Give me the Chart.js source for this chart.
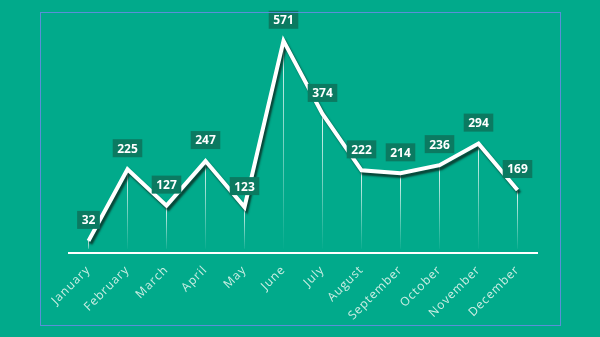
<!DOCTYPE html>
<html>
<head>
<meta charset="utf-8">
<script src="https://cdn.jsdelivr.net/npm/chart.js@4"></script>
<style>
    html, body { margin: 0; padding: 0; background: #01aa8b; }
    #wrap { position: relative; width: 600px; height: 337px; }
    #frame { position: absolute; left: 40px; top: 12px; width: 519px; height: 312px; border: 1px solid #5a8fd8; pointer-events: none; }
</style>
</head>
<body>
<div id="wrap">
    <canvas id="chart" width="600" height="337"></canvas>
    <div id="frame"></div>
</div>
<script>
const months = ['January', 'February', 'March', 'April', 'May', 'June', 'July', 'August', 'September', 'October', 'November', 'December'];
const values = [32, 225, 127, 247, 123, 571, 374, 222, 214, 236, 294, 169];

// month labels are spaced out a bit (canvas resets state on resize, so set it each time)
const spacing = {
    id: 'spacing',
    beforeUpdate(chart) { chart.ctx.letterSpacing = '1px'; },
    beforeDraw(chart) { chart.ctx.letterSpacing = '1px'; }
};

// drop lines from each point down to the axis
const dropLines = {
    id: 'dropLines',
    beforeDatasetsDraw(chart) {
        const ctx = chart.ctx;
        const bottom = chart.chartArea.bottom;
        const meta = chart.getDatasetMeta(0);
        ctx.save();
        meta.data.forEach(pt => {
            const grad = ctx.createLinearGradient(0, pt.y, 0, bottom);
            grad.addColorStop(0, 'rgba(255,255,255,0.9)');
            grad.addColorStop(1, 'rgba(255,255,255,0)');
            ctx.strokeStyle = grad;
            ctx.lineWidth = 1;
            ctx.beginPath();
            ctx.moveTo(pt.x, pt.y);
            ctx.lineTo(pt.x, bottom - 4);
            ctx.stroke();
        });
        ctx.restore();
    }
};

// dark shadow under the white line
const lineShadow = {
    id: 'lineShadow',
    beforeDatasetDraw(chart) {
        const ctx = chart.ctx;
        ctx.save();
        ctx.shadowColor = 'rgba(10,50,40,0.85)';
        ctx.shadowBlur = 2;
        ctx.shadowOffsetX = 2;
        ctx.shadowOffsetY = 3;
    },
    afterDatasetDraw(chart) {
        chart.ctx.restore();
    }
};

// value boxes above the points
const valueBoxes = {
    id: 'valueBoxes',
    afterDatasetsDraw(chart) {
        const ctx = chart.ctx;
        const meta = chart.getDatasetMeta(0);
        ctx.save();
        ctx.letterSpacing = '0px';
        ctx.font = 'bold 12px "Open Sans"';
        ctx.textAlign = 'center';
        ctx.textBaseline = 'middle';
        meta.data.forEach((pt, i) => {
            const txt = String(values[i]);
            const w = ctx.measureText(txt).width + 9;
            const h = 18;
            const cy = pt.y - 21;
            ctx.fillStyle = '#0b7a61';
            ctx.fillRect(pt.x - w / 2, cy - h / 2, w, h);
            ctx.fillStyle = '#ffffff';
            ctx.fillText(txt, pt.x, cy + 1);
        });
        ctx.restore();
    }
};

const ctx = document.getElementById('chart').getContext('2d');
new Chart(ctx, {
    type: 'line',
    data: {
        labels: months,
        datasets: [{
            data: values,
            borderColor: '#ffffff',
            borderWidth: 4,
            pointRadius: 0,
            tension: 0,
            fill: false
        }]
    },
    options: {
        responsive: false,
        animation: false,
        layout: { padding: { left: 69, right: 63, top: 30, bottom: 4 } },
        plugins: { legend: { display: false }, tooltip: { enabled: false } },
        scales: {
            x: {
                offset: true,
                grid: { display: false, drawTicks: false },
                border: { color: '#ffffff', width: 2 },
                ticks: {
                    color: '#cdeee4',
                    font: { family: 'Open Sans', size: 12 },
                    minRotation: 45,
                    maxRotation: 45,
                    autoSkip: false,
                    padding: 10
                }
            },
            y: {
                display: false,
                min: 0,
                max: 600
            }
        }
    },
    plugins: [spacing, dropLines, lineShadow, valueBoxes]
});
</script>
</body>
</html>
